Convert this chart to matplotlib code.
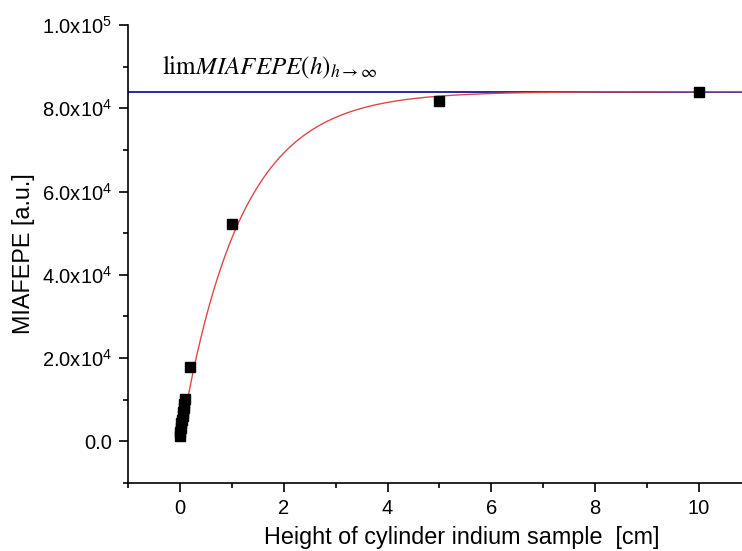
import numpy as np
import matplotlib
matplotlib.use('Agg')
import matplotlib.pyplot as plt
from matplotlib.ticker import MultipleLocator, FixedLocator, FuncFormatter

plt.rcParams['font.family'] = ['Liberation Sans', 'DejaVu Sans']
plt.rcParams['mathtext.fontset'] = 'custom'
plt.rcParams['mathtext.rm'] = 'Liberation Sans'
plt.rcParams['mathtext.it'] = 'Liberation Sans:italic'

# measured points: sample height [cm] vs MIAFEPE [a.u.]
height = [0.0, 0.01, 0.02, 0.03, 0.04, 0.05, 0.06, 0.07, 0.08, 0.1, 0.2, 1.0, 5.0, 10.0]
miafepe = [1300, 2300, 3300, 4300, 5200, 6100, 7000, 8000, 9000, 10200, 17800, 52300, 81800, 84000]
xticks = [0, 2, 4, 6, 8, 10]

# exponential saturation fit  y = y_sat * (1 - exp(-h / h0))
y_sat = 84000.0
h0 = 1.15
y_limit = 84000.0


def tick_fmt(v, pos):
    if abs(v) < 1:
        return '0.0'
    exp = int(np.floor(np.log10(abs(v))))
    mant = v / 10 ** exp
    return r'%.1fx10$^{%d}$' % (mant, exp)


fig = plt.figure(figsize=(7.42, 5.51), dpi=100)
ax = fig.add_axes([128 / 742, 68 / 551, (795 - 128) / 742, 458 / 551])

hfit = np.linspace(0, 12, 600)
ax.plot(hfit, y_sat * (1 - np.exp(-hfit / h0)), color='#e04848', lw=1.0, zorder=2)
ax.axhline(y_limit, color='#2a2aa0', lw=1.4, zorder=1)
ax.plot(height, miafepe, ls='none', marker='s', ms=7.5, color='black', zorder=3)

ax.text(-0.35, 86500, r'$\mathrm{lim}\mathit{MIAFEPE}\left(h\right)_{h\rightarrow\infty}$',
        fontsize=18, math_fontfamily='stix', ha='left', va='bottom')

ax.set_xlim(-1, 11.85)
ax.set_ylim(-10000, 100000)
ax.xaxis.set_major_locator(FixedLocator(xticks))
ax.xaxis.set_minor_locator(MultipleLocator(1))
ax.yaxis.set_major_locator(MultipleLocator(20000))
ax.yaxis.set_minor_locator(MultipleLocator(10000))
ax.yaxis.set_major_formatter(FuncFormatter(tick_fmt))

for s in ['top', 'right']:
    ax.spines[s].set_visible(False)
for s in ['left', 'bottom']:
    ax.spines[s].set_linewidth(1.2)
ax.tick_params(which='major', direction='out', length=6.5, width=1.2, labelsize=14.5, pad=5)
ax.tick_params(which='minor', direction='out', length=3.5, width=1.2)

ax.set_xlabel('Height of cylinder indium sample  [cm]', fontsize=16.8, labelpad=6)
ax.set_ylabel('MIAFEPE [a.u.]', fontsize=16.8, labelpad=5)

fig.savefig('out.png', dpi=100)
